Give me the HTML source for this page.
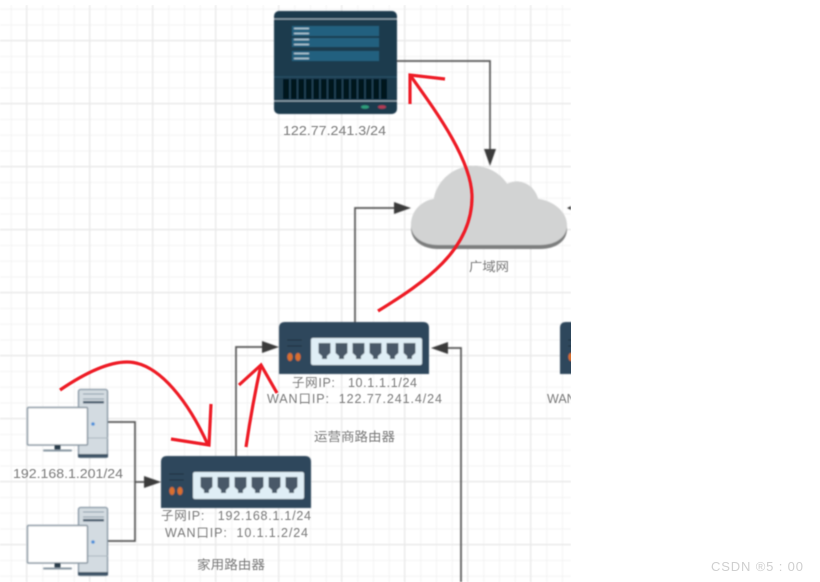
<!DOCTYPE html>
<html>
<head>
<meta charset="utf-8">
<style>
html,body{margin:0;padding:0;background:#fff;}
svg{display:block;}
text{font-family:"Liberation Sans","Noto Sans CJK SC",sans-serif;fill:#7a7a7a;font-size:12.5px;}
</style>
</head>
<body>
<svg width="820" height="582" viewBox="0 0 820 582" xmlns="http://www.w3.org/2000/svg">
<defs>
<filter id="b" x="-5%" y="-5%" width="110%" height="110%"><feGaussianBlur stdDeviation="0.8"/></filter>
<filter id="t" x="-5%" y="-5%" width="110%" height="110%"><feGaussianBlur stdDeviation="0.6"/></filter>
<filter id="r" x="-5%" y="-5%" width="110%" height="110%"><feGaussianBlur stdDeviation="0.4"/></filter>
<filter id="g" x="-5%" y="-5%" width="110%" height="110%"><feGaussianBlur stdDeviation="0.7"/></filter>
<pattern id="minor" x="10.8" y="8.7" width="15.75" height="15.75" patternUnits="userSpaceOnUse">
<path d="M0.5 0V15.75M0 0.5H15.75" stroke="#f3f3f3" stroke-width="1" fill="none"/>
</pattern>
<pattern id="major" x="26" y="40" width="63" height="63" patternUnits="userSpaceOnUse">
<path d="M0.5 0V63M0 0.5H63" stroke="#e9e9e9" stroke-width="1.200" fill="none"/>
</pattern>
<clipPath id="c"><rect x="0" y="5" width="571" height="577"/></clipPath>
<g id="router">
<path d="M0 52V6Q0 0 6 0H144Q150 0 150 6V52Z" fill="#2e465c"/>
<rect x="32" y="16" width="111" height="27" rx="2" fill="#dfeef6"/>
<g fill="#4a5868">
<path d="M39.500 21H51.500V31L48 34V37H43V34L39.500 31Z"/>
<path d="M56.500 21H68.500V31L65 34V37H60V34L56.500 31Z"/>
<path d="M73.500 21H85.500V31L82 34V37H77V34L73.500 31Z"/>
<path d="M90.500 21H102.500V31L99 34V37H94V34L90.500 31Z"/>
<path d="M107.500 21H119.500V31L116 34V37H111V34L107.500 31Z"/>
<path d="M124.500 21H136.500V31L133 34V37H128V34L124.500 31Z"/>
</g>
<path d="M8 18H23M8 24H23" stroke="#1f3040" stroke-width="1"/>
<ellipse cx="11" cy="35" rx="2.600" ry="4" fill="#d9702e"/>
<ellipse cx="19" cy="35" rx="2.600" ry="4" fill="#d9702e"/>
</g>
<g id="pc">
<rect x="78.500" y="389.500" width="29" height="68" rx="2" fill="#d3dbe1" stroke="#7f909e" stroke-width="1.300"/>
<rect x="78" y="454" width="30" height="3.500" fill="#3d5266"/>
<path d="M83 394H104M83 399H104" stroke="#8a99a6" stroke-width="1"/>
<rect x="83" y="401" width="21" height="2.500" fill="#4a5d70"/>
<path d="M88 438H108" stroke="#aab5be" stroke-width="1"/>
<circle cx="93" cy="424" r="1.800" fill="#4a90d9"/>
<rect x="27.500" y="407.500" width="60" height="37.500" rx="1" fill="#fff" stroke="#8896a2" stroke-width="1.500"/>
<rect x="54.500" y="445" width="6" height="5" fill="#2a3c4c"/>
<rect x="43" y="449.500" width="29" height="2" rx="1" fill="#8896a2"/>
</g>
</defs>

<g clip-path="url(#c)">
<rect x="0" y="5" width="571" height="577" fill="url(#minor)" filter="url(#g)"/>
<rect x="0" y="5" width="571" height="577" fill="url(#major)" filter="url(#g)"/>
</g>

<g clip-path="url(#c)" filter="url(#b)">
<!-- server -->
<rect x="274" y="11" width="123" height="103" rx="5" fill="#1f3a4d"/>
<path d="M274 19H397M274 101H397" stroke="#9fb2bf" stroke-width="1"/>
<path d="M274 77H397" stroke="#2c5269" stroke-width="1"/>
<g fill="#24607f">
<rect x="292" y="26" width="87" height="10"/>
<rect x="292" y="38" width="87" height="9"/>
<rect x="292" y="51" width="87" height="10"/>
</g>
<path d="M294 28.500H309M294 33.500H309M294 39.500H309M294 44.500H309M294 53.500H309M294 58.500H309" stroke="#c6d9e3" stroke-width="1.300"/>
<rect x="283" y="79" width="104" height="20" fill="#06121f"/>
<path d="M290 79V99M297.500 79V99M305 79V99M312.500 79V99M320 79V99M327.500 79V99M335 79V99M342.500 79V99M350 79V99M357.500 79V99M365 79V99M372.500 79V99M380 79V99" stroke="#24465a" stroke-width="1.600"/>
<ellipse cx="365" cy="107" rx="4" ry="1.700" fill="#2f9d7c"/>
<ellipse cx="382" cy="107" rx="4" ry="1.700" fill="#b23a55"/>

<!-- cloud -->
<path d="M411 228C411 212 421 201 434 199C437 180 455 166 473 166C487 166 500 173 507 184C519 178 534 184 538 199C554 201 567 213 567 229C567 241 556 249 540 249H438C423 249 411 241 411 228Z" fill="#7d7e7e"/>
<path d="M411 225C411 211 421 201 434 199C437 180 455 166 473 166C487 166 500 173 507 184C519 178 534 184 538 199C554 201 567 212 567 225C567 237 556 245 540 245H438C423 245 411 237 411 225Z" fill="#d2d3d3"/>

<!-- routers -->
<use href="#router" x="560" y="322"/>
<use href="#router" x="279" y="322"/>
<use href="#router" x="161" y="456"/>
<!-- PCs -->
<use href="#pc"/>
<use href="#pc" y="118"/>

<!-- connectors -->
<g fill="none" stroke="#555" stroke-width="1.700">
<path d="M108 422H135V541H108"/>
<path d="M135 482H146"/>
<path d="M236 456V347H264"/>
<path d="M355 322V208H396"/>
<path d="M397 61H490V150"/>
<path d="M461 582V348H446"/>
</g>
<g fill="#3a3a3a">
<path d="M161 482L144 476V488Z"/>
<path d="M279 347L262 341V353Z"/>
<path d="M411 208L394 202V214Z"/>
<path d="M490 166L484 149H496Z"/>
<path d="M431 348L448 342V354Z"/>
<path d="M567 208L571 206V210Z"/>
</g>
</g>

<!-- labels -->
<g filter="url(#t)" clip-path="url(#c)">
<text x="283" y="135" textLength="103" lengthAdjust="spacingAndGlyphs">122.77.241.3/24</text>
<text x="469" y="271" textLength="40" lengthAdjust="spacingAndGlyphs">广域网</text>
<text x="13" y="478" textLength="110" lengthAdjust="spacingAndGlyphs">192.168.1.201/24</text>
<text x="161" y="520" textLength="150" lengthAdjust="spacing" xml:space="preserve">子网IP:   192.168.1.1/24</text>
<text x="165" y="537" textLength="143" lengthAdjust="spacing" xml:space="preserve">WAN口IP:  10.1.1.2/24</text>
<text x="197" y="569" textLength="68" lengthAdjust="spacingAndGlyphs">家用路由器</text>
<text x="292" y="387" textLength="125" lengthAdjust="spacing" xml:space="preserve">子网IP:   10.1.1.1/24</text>
<text x="267" y="403" textLength="175" lengthAdjust="spacing" xml:space="preserve">WAN口IP:  122.77.241.4/24</text>
<text x="314" y="441" textLength="81" lengthAdjust="spacingAndGlyphs">运营商路由器</text>
<text x="547" y="403">WAN</text>
</g>

<!-- red arrows -->
<g fill="none" stroke="#ee1c25" stroke-width="3.200" stroke-linecap="butt" stroke-linejoin="miter" filter="url(#r)">
<path d="M60 390C85 373 108 362 127 362C160 362 190 405 208 445"/>
<path d="M211 404L209 445L171 439"/>
<path d="M246 447C250 420 255 392 261 365"/>
<path d="M239 385L261 365L277 393"/>
<path d="M378 311C425 282 472 250 472 197C472 160 435 110 410 75"/>
<path d="M445 79L410 75L410 104"/>
</g>

<text x="711" y="571" textLength="92" lengthAdjust="spacing" style="fill:#cfcfcf;font-size:13px">CSDN ®5 : 00</text>
</svg>
</body>
</html>
